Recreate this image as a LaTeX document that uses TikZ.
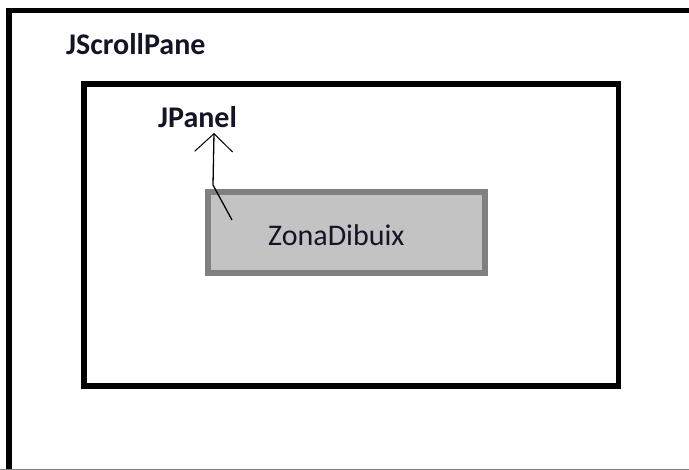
\documentclass[tikz,border=0pt]{standalone}
\usepackage{fontspec}
\newfontfamily\calibri{Carlito}
\usetikzlibrary{arrows.meta}
\definecolor{boxgray}{RGB}{128,128,128}
\definecolor{boxfill}{RGB}{195,195,195}
\definecolor{inktext}{RGB}{20,20,40}
\tikzset{
  frame/.style={draw=black, line width=5.5pt, fill=none, inner sep=0pt, outer sep=0pt},
  zonabox/.style={draw=boxgray, fill=boxfill, line width=6pt, inner sep=0pt, outer sep=0pt},
  title/.style={font=\calibri\bfseries\fontsize{30}{36}\selectfont, text=inktext, inner sep=0pt, anchor=base west},
  plain/.style={font=\calibri\fontsize{30}{36}\selectfont, text=inktext, inner sep=0pt, anchor=base west},
  conn/.style={draw=black, line width=1.3pt, -{Straight Barb[length=18pt,width=38pt,line width=1pt]}}
}
\begin{document}
\begin{tikzpicture}[x=1pt,y=-1pt]
\useasboundingbox (0,0) rectangle (689,470);
\fill[white] (0,0) rectangle (689,470);
\clip (0,0) rectangle (689,470);
% outer JScrollPane frame (cut off at right and bottom)
\node[frame, minimum width=700pt, minimum height=470pt, anchor=north west] (scroll) at (9,10.5) {};
\draw[boxgray, line width=0.8pt] (0,469.5) -- (689,469.5);
% inner JPanel frame
\node[frame, minimum width=534.5pt, minimum height=302pt, anchor=north west] (panel) at (84,84) {};
% ZonaDibuix box
\node[zonabox, minimum width=277pt, minimum height=81.5pt, anchor=north west] (zona) at (207.5,192) {};
% labels
\node[title] (scrolllabel) at (66,55) {JScrollPane};
\node[title] (panellabel) at (158,128) {JPanel};
\node[plain] (zonalabel) at (268,246) {ZonaDibuix};
% connector from ZonaDibuix up to JPanel label
\coordinate (start) at (232,220);
\coordinate (bend) at (213,185);
\coordinate (tip) at (214,133);
\draw[conn] (start) -- (bend) -- (tip);
\end{tikzpicture}
\end{document}
